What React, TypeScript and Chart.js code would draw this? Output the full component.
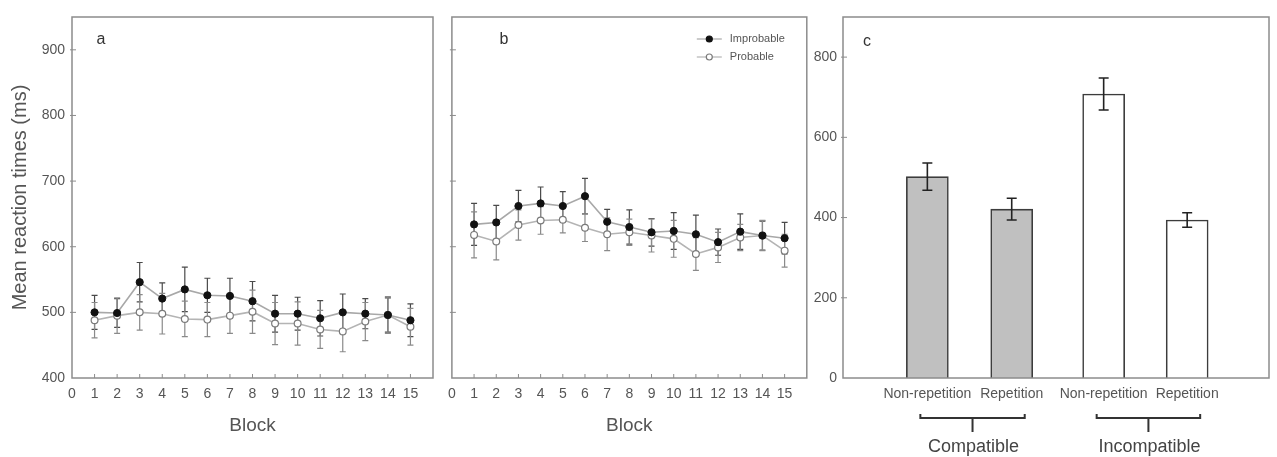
import { useEffect, useRef } from 'react';
import { Chart, registerables } from 'chart.js';

Chart.register(...registerables);

// ---- data ----
const blocks = [1, 2, 3, 4, 5, 6, 7, 8, 9, 10, 11, 12, 13, 14, 15];
const blockTicks = [0, 1, 2, 3, 4, 5, 6, 7, 8, 9, 10, 11, 12, 13, 14, 15];
const rtTicks = [400, 500, 600, 700, 800, 900];

// panel a
const improbableA = [500, 499, 546, 521, 535, 526, 525, 517, 498, 498, 491, 500, 498, 496, 488];
const improbableAErr = [26, 22, 30, 24, 34, 26, 27, 30, 28, 25, 27, 28, 23, 26, 25];
const probableA = [488, 495, 500, 498, 490, 489, 495, 501, 483, 483, 474, 471, 486, 496, 478];
const probableAErr = [27, 27, 27, 31, 27, 26, 27, 33, 32, 33, 29, 31, 29, 28, 28];

// panel b
const improbableB = [634, 637, 662, 666, 662, 677, 638, 630, 622, 624, 619, 607, 623, 617, 613];
const improbableBErr = [32, 26, 24, 25, 22, 27, 19, 26, 21, 28, 29, 20, 27, 22, 24];
const probableB = [618, 608, 633, 640, 641, 629, 619, 622, 617, 612, 589, 599, 614, 617, 594];
const probableBErr = [35, 28, 23, 21, 20, 21, 25, 20, 25, 28, 25, 23, 20, 23, 25];

// panel c
const conditionLabels = ['Non-repetition', 'Repetition', 'Non-repetition', 'Repetition'];
const conditionSlots = [1, 2, 3.09, 4.08];
const conditionMeans = [502, 421, 708, 394];
const conditionErr = [34, 27, 40, 18];
const conditionFill = ['#c0c0c0', '#c0c0c0', '#ffffff', '#ffffff'];
const groupLabels = ['Compatible', 'Incompatible'];
const groupMembers = [[0, 1], [2, 3]];
const countTicks = [0, 200, 400, 600, 800];

const FONT = '"Liberation Sans", Arial, Helvetica, sans-serif';
const TEXT = '#555555';
const FRAME = '#8c8c8c';

// error bars drawn from each dataset's `errors` array through the y scale
const errorBarPlugin = {
  id: 'errorBars',
  beforeDatasetsDraw(chart: any, _args: any, opts: any) {
    if (!opts.under) return;
    drawErrors(chart);
  },
  afterDatasetsDraw(chart: any, _args: any, opts: any) {
    if (opts.under) return;
    drawErrors(chart);
  },
};

function drawErrors(chart: any) {
  const ctx = chart.ctx;
  const yScale = chart.scales.y;
  chart.data.datasets.forEach((ds: any, i: number) => {
    const errs = ds.errors;
    if (!errs) return;
    const meta = chart.getDatasetMeta(i);
    ctx.save();
    ctx.strokeStyle = ds.errorColor || '#333';
    ctx.lineWidth = ds.errorWidth || 1.2;
    const cap = ds.capHalf || 3;
    meta.data.forEach((el: any, j: number) => {
      const v = ds.data[j];
      const val = typeof v === 'number' ? v : v.y;
      const x = el.x;
      const top = yScale.getPixelForValue(val + errs[j]);
      const bot = yScale.getPixelForValue(val - errs[j]);
      ctx.beginPath();
      ctx.moveTo(x, top);
      ctx.lineTo(x, bot);
      ctx.moveTo(x - cap, top);
      ctx.lineTo(x + cap, top);
      ctx.moveTo(x - cap, bot);
      ctx.lineTo(x + cap, bot);
      ctx.stroke();
    });
    ctx.restore();
  });
}

// boxed frame with short inward tick marks
const framePlugin = {
  id: 'frame',
  afterDraw(chart: any, _args: any, opts: any) {
    const { ctx, chartArea } = chart;
    const { left, right, top, bottom } = chartArea;
    ctx.save();
    ctx.strokeStyle = FRAME;
    ctx.lineWidth = 1.5;
    ctx.strokeRect(left, top, right - left, bottom - top);
    ctx.lineWidth = 1;
    const len = 4;
    if (opts.xTicks) {
      const xs = chart.scales.x;
      xs.ticks.forEach((t: any) => {
        const px = xs.getPixelForValue(t.value);
        if (px <= left + 1 || px >= right - 1) return;
        ctx.beginPath();
        ctx.moveTo(px, bottom);
        ctx.lineTo(px, bottom - len);
        ctx.stroke();
      });
    }
    if (opts.yTicks) {
      const ys = chart.scales.y;
      ys.ticks.forEach((t: any) => {
        const py = ys.getPixelForValue(t.value);
        if (py >= bottom - 1 || py <= top + 1) return;
        ctx.beginPath();
        ctx.moveTo(left - 2, py);
        ctx.lineTo(left + len, py);
        ctx.stroke();
      });
    }
    ctx.restore();
  },
};

// panel letter and optional line legend
const panelTextPlugin = {
  id: 'panelText',
  afterDraw(chart: any, _args: any, opts: any) {
    const { ctx, chartArea } = chart;
    ctx.save();
    ctx.fillStyle = '#333';
    ctx.font = `16px ${FONT}`;
    ctx.textAlign = 'center';
    ctx.textBaseline = 'middle';
    ctx.fillText(opts.letter, chartArea.left + opts.dx, chartArea.top + opts.dy);
    if (opts.legend) {
      const x0 = chartArea.right - 110;
      const x1 = chartArea.right - 85;
      const xm = (x0 + x1) / 2;
      chart.data.datasets.forEach((ds: any, i: number) => {
        const y = chartArea.top + 22 + i * 18;
        ctx.strokeStyle = ds.borderColor;
        ctx.lineWidth = 1.2;
        ctx.beginPath();
        ctx.moveTo(x0, y);
        ctx.lineTo(x1, y);
        ctx.stroke();
        ctx.beginPath();
        ctx.arc(xm, y, 3, 0, Math.PI * 2);
        ctx.fillStyle = ds.pointBackgroundColor;
        ctx.fill();
        ctx.strokeStyle = ds.pointBorderColor;
        ctx.stroke();
        ctx.fillStyle = TEXT;
        ctx.font = `11px ${FONT}`;
        ctx.textAlign = 'left';
        ctx.fillText(ds.label, x1 + 8, y);
      });
    }
    ctx.restore();
  },
};

// brackets grouping the bars below the x labels
const bracketPlugin = {
  id: 'brackets',
  afterDraw(chart: any, _args: any, opts: any) {
    if (!opts.groups) return;
    const { ctx, chartArea } = chart;
    const meta = chart.getDatasetMeta(0);
    ctx.save();
    ctx.strokeStyle = '#333';
    ctx.lineWidth = 2;
    const yLine = chartArea.bottom + 40;
    opts.groups.forEach((members: number[], gi: number) => {
      const a = meta.data[members[0]].x - 7;
      const b = meta.data[members[members.length - 1]].x + 13;
      const mid = (a + b) / 2;
      ctx.beginPath();
      ctx.moveTo(a, yLine - 4);
      ctx.lineTo(a, yLine);
      ctx.lineTo(b, yLine);
      ctx.lineTo(b, yLine - 4);
      ctx.moveTo(mid, yLine);
      ctx.lineTo(mid, yLine + 14);
      ctx.stroke();
      ctx.fillStyle = '#444';
      ctx.font = `18px ${FONT}`;
      ctx.textAlign = 'center';
      ctx.textBaseline = 'middle';
      ctx.fillText(opts.labels[gi], mid + 1, yLine + 29);
    });
    ctx.restore();
  },
};

const tickFont = { family: FONT, size: 14 };

function lineDatasets(impr: number[], imprErr: number[], prob: number[], probErr: number[]) {
  return [
    {
      label: 'Improbable',
      data: blocks.map((b, i) => ({ x: b, y: impr[i] })),
      errors: imprErr,
      errorColor: '#4a4a4a',
      borderColor: '#a8a8a8',
      borderWidth: 1.6,
      pointBackgroundColor: '#111111',
      pointBorderColor: '#111111',
      pointRadius: 3.6,
      pointBorderWidth: 1,
      tension: 0,
    },
    {
      label: 'Probable',
      data: blocks.map((b, i) => ({ x: b, y: prob[i] })),
      errors: probErr,
      errorColor: '#8a8a8a',
      borderColor: '#b4b4b4',
      borderWidth: 1.6,
      pointBackgroundColor: '#ffffff',
      pointBorderColor: '#7a7a7a',
      pointRadius: 3.4,
      pointBorderWidth: 1.2,
      tension: 0,
    },
  ];
}

function lineConfig(
  datasets: any[],
  yWidth: number,
  showY: boolean,
  padRight: number,
  letter: string,
  dx: number,
  legend: boolean
): any {
  return {
    type: 'line',
    data: { datasets },
    plugins: [errorBarPlugin, framePlugin, panelTextPlugin],
    options: {
      responsive: false,
      animation: false,
      devicePixelRatio: 1,
      layout: { padding: { top: 17, right: padRight, left: 0, bottom: 0 } },
      plugins: {
        legend: { display: false },
        tooltip: { enabled: false },
        errorBars: { under: true },
        frame: { xTicks: true, yTicks: true },
        panelText: { letter, dx, dy: 23, legend },
      },
      scales: {
        x: {
          type: 'linear',
          min: 0,
          max: 16,
          afterBuildTicks: (s: any) => {
            s.ticks = blockTicks.map((v) => ({ value: v }));
          },
          afterFit: (s: any) => {
            s.height = 79;
          },
          grid: { display: false, drawTicks: false },
          border: { display: false },
          ticks: {
            font: tickFont,
            color: TEXT,
            padding: 8,
            maxRotation: 0,
            autoSkip: false,
            callback: (v: any) => String(v),
          },
          title: {
            display: true,
            text: 'Block',
            font: { family: FONT, size: 19 },
            color: TEXT,
            padding: { top: 0, bottom: 20 },
          },
        },
        y: {
          min: 400,
          max: 950,
          afterBuildTicks: (s: any) => {
            s.ticks = rtTicks.map((v) => ({ value: v }));
          },
          afterFit: (s: any) => {
            s.width = yWidth;
          },
          grid: { display: false, drawTicks: false },
          border: { display: false },
          ticks: { display: showY, font: tickFont, color: TEXT, padding: 7 },
          title: {
            display: showY,
            text: 'Mean reaction times (ms)',
            font: { family: FONT, size: 20 },
            color: TEXT,
            padding: { top: 8, bottom: 0 },
          },
        },
      },
    },
  };
}

function barConfig(): any {
  return {
    type: 'bar',
    data: {
      datasets: [
        {
          data: conditionSlots.map((x, i) => ({ x, y: conditionMeans[i] })),
          errors: conditionErr,
          errorColor: '#222222',
          errorWidth: 1.6,
          capHalf: 5,
          backgroundColor: conditionFill,
          borderColor: '#3c3c3c',
          borderWidth: 1.6,
          barThickness: 42,
        },
      ],
    },
    plugins: [errorBarPlugin, framePlugin, panelTextPlugin, bracketPlugin],
    options: {
      responsive: false,
      animation: false,
      devicePixelRatio: 1,
      layout: { padding: { top: 17, right: 8, left: 0, bottom: 0 } },
      plugins: {
        legend: { display: false },
        tooltip: { enabled: false },
        errorBars: { under: false },
        frame: { xTicks: false, yTicks: true },
        panelText: { letter: 'c', dx: 24, dy: 25, legend: false },
        brackets: { groups: groupMembers, labels: groupLabels },
      },
      scales: {
        x: {
          type: 'linear',
          min: 0,
          max: 5.05,
          offset: false,
          afterBuildTicks: (s: any) => {
            s.ticks = conditionSlots.map((v) => ({ value: v }));
          },
          afterFit: (s: any) => {
            s.height = 79;
          },
          grid: { display: false, drawTicks: false, offset: false },
          border: { display: false },
          ticks: {
            font: tickFont,
            color: TEXT,
            padding: 8,
            maxRotation: 0,
            autoSkip: false,
            callback: (_v: any, i: number) => conditionLabels[i],
          },
        },
        y: {
          min: 0,
          max: 900,
          afterBuildTicks: (s: any) => {
            s.ticks = countTicks.map((v) => ({ value: v }));
          },
          afterFit: (s: any) => {
            s.width = 53;
          },
          grid: { display: false, drawTicks: false },
          border: { display: false },
          ticks: { font: tickFont, color: TEXT, padding: 6 },
        },
      },
    },
  };
}

function ChartCanvas({ make, left, width }: { make: () => any; left: number; width: number }) {
  const ref = useRef<HTMLCanvasElement | null>(null);
  useEffect(() => {
    if (!ref.current) return;
    const chart = new Chart(ref.current, make());
    return () => chart.destroy();
  }, []);
  return (
    <canvas
      ref={ref}
      width={width}
      height={457}
      style={{ position: 'absolute', left, top: 0, width, height: 457 }}
    />
  );
}

export default function App() {
  return (
    <div
      style={{
        position: 'absolute',
        left: 0,
        top: 0,
        width: 1277,
        height: 457,
        background: '#ffffff',
        overflow: 'hidden',
      }}
    >
      <ChartCanvas
        left={0}
        width={440}
        make={() =>
          lineConfig(lineDatasets(improbableA, improbableAErr, probableA, probableAErr), 72, true, 7, 'a', 29, false)
        }
      />
      <ChartCanvas
        left={440}
        width={372}
        make={() =>
          lineConfig(lineDatasets(improbableB, improbableBErr, probableB, probableBErr), 6, false, 5, 'b', 52, true)
        }
      />
      <ChartCanvas left={790} width={487} make={barConfig} />
    </div>
  );
}
